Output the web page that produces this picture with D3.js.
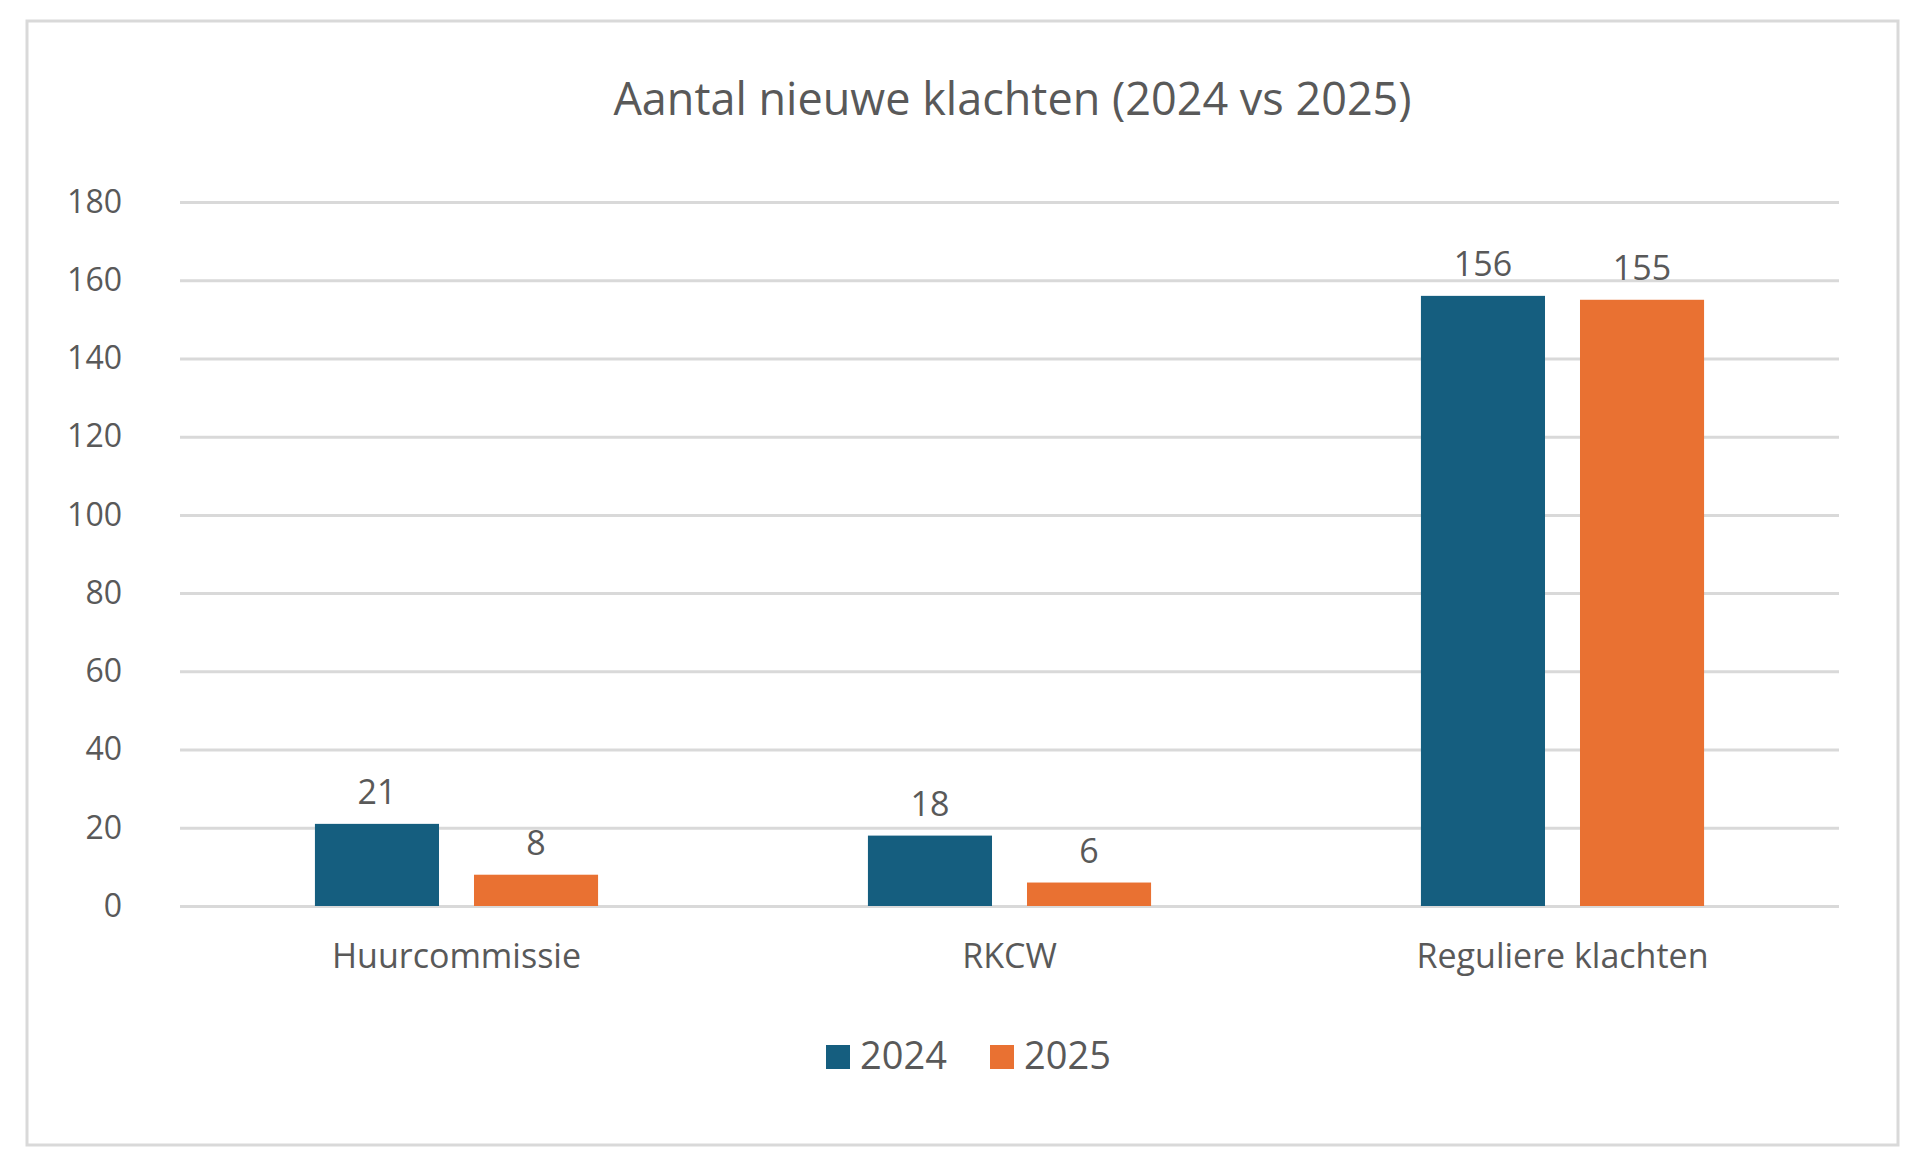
<!DOCTYPE html>
<html><head><meta charset="utf-8">
<script src="https://cdn.jsdelivr.net/npm/d3@7"></script>
<style>body{margin:0;background:#fff}svg{display:block}text{font-family:"Open Sans",sans-serif;fill:#595959}</style>
</head><body>
<script>
// Chart data
const categories = ['Huurcommissie', 'RKCW', 'Reguliere klachten'];
const series = ['2024', '2025'];
const values2024 = [21, 18, 156];
const values2025 = [8, 6, 155];
const yTicks = [0, 20, 40, 60, 80, 100, 120, 140, 160, 180];
const colors = ['#155e7f', '#e97132'];

const W = 1920, H = 1159;
const M = { left: 180, right: 1839, top: 202, bottom: 906 };

const svg = d3.select('body').append('svg').attr('width', W).attr('height', H);
svg.append('rect').attr('x', 27).attr('y', 21).attr('width', 1871).attr('height', 1124)
  .attr('fill', '#fff').attr('stroke', '#d9d9d9').attr('stroke-width', 3);

svg.append('text').attr('x', (M.left + M.right) / 2 + 3).attr('y', 115)
  .attr('text-anchor', 'middle').attr('font-size', 45).text('Aantal nieuwe klachten (2024 vs 2025)');

const y = d3.scaleLinear().domain([0, 180]).range([M.bottom, M.top]);
const x0 = d3.scaleBand().domain(categories).range([M.left, M.right]).paddingInner(0).paddingOuter(0);
const x1 = d3.scaleBand().domain(series).range([x0.bandwidth() * 0.244, x0.bandwidth() * 0.756]).paddingInner(0.22);

// gridlines + tick labels
const yAxis = svg.append('g').attr('transform', `translate(${M.left},0)`)
  .call(d3.axisLeft(y).tickValues(yTicks).tickSize(-(M.right - M.left)).tickPadding(58));
yAxis.select('.domain').remove();
yAxis.selectAll('line').attr('stroke', '#d9d9d9').attr('stroke-width', 3);
yAxis.selectAll('text').attr('font-size', 32).attr('fill', '#595959').style('font-family', '"Open Sans",sans-serif');

const xAxis = svg.append('g').attr('transform', `translate(0,${M.bottom})`)
  .call(d3.axisBottom(x0).tickSize(0).tickPadding(38));
xAxis.select('.domain').remove();
xAxis.selectAll('text').attr('font-size', 34).attr('fill', '#595959').style('font-family', '"Open Sans",sans-serif');

const rows = categories.map((c, i) => ({ c, v: [values2024[i], values2025[i]] }));
const g = svg.append('g').selectAll('g').data(rows).join('g')
  .attr('transform', d => `translate(${x0(d.c)},0)`);
g.selectAll('rect').data(d => series.map((s, j) => ({ s, v: d.v[j], j }))).join('rect')
  .attr('x', d => x1(d.s)).attr('width', x1.bandwidth())
  .attr('y', d => y(d.v)).attr('height', d => y(0) - y(d.v))
  .attr('fill', d => colors[d.j]);
g.selectAll('text.lbl').data(d => series.map((s, j) => ({ s, v: d.v[j] }))).join('text')
  .attr('class', 'lbl').attr('text-anchor', 'middle').attr('font-size', 34)
  .attr('x', d => x1(d.s) + x1.bandwidth() / 2).attr('y', d => y(d.v) - 20)
  .text(d => d.v);

// legend
const lg = svg.append('g').selectAll('g').data(series).join('g')
  .attr('transform', (d, i) => `translate(${[826, 990][i]},1069)`);
lg.append('rect').attr('x', 0).attr('y', -24).attr('width', 24).attr('height', 24).attr('fill', (d, i) => colors[i]);
lg.append('text').attr('x', 34).attr('y', 0).attr('font-size', 38).text(d => d);
</script>
</body></html>
